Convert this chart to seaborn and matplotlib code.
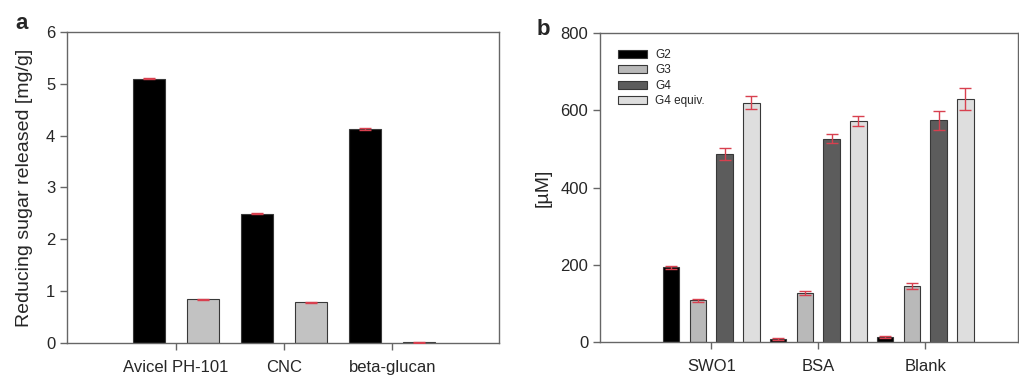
import numpy as np
import pandas as pd
import seaborn as sns
import matplotlib
matplotlib.use("Agg")
import matplotlib.pyplot as plt

# panel a data
subs_a = ["Avicel PH-101", "CNC", "beta-glucan"]
series_a = ["s1", "s2"]
vals_a1 = [5.10, 2.49, 4.12]
vals_a2 = [0.84, 0.79, 0.01]
err_a1 = [0.01, 0.01, 0.02]
err_a2 = [0.01, 0.01, 0.005]

# panel b data
groups_b = ["SWO1", "BSA", "Blank"]
series_b = ["G2", "G3", "G4", "G4 equiv."]
g2 = [193, 8, 13]
g3 = [108, 127, 145]
g4 = [487, 526, 574]
g4e = [620, 572, 629]
g2_err = [3, 2, 2]
g3_err = [4, 5, 7]
g4_err = [15, 12, 25]
g4e_err = [17, 14, 28]

sns.set_style("white")
plt.rcParams['font.family'] = ['Liberation Sans', 'DejaVu Sans']

red = "#d8404f"
spine_col = "#666666"

fig = plt.figure(figsize=(10.19, 3.75), dpi=100)
ax1 = fig.add_axes([0.0658, 0.0853, 0.424, 0.8294])
ax2 = fig.add_axes([0.5888, 0.088, 0.4105, 0.824])

# ---- panel a ----
df_a = pd.DataFrame({
    "sub": subs_a * 2,
    "series": [series_a[0]] * 3 + [series_a[1]] * 3,
    "val": vals_a1 + vals_a2,
})
sns.barplot(data=df_a, x="sub", y="val", hue="series", order=subs_a,
            hue_order=series_a, palette={"s1": "black", "s2": "#c2c2c2"},
            width=1.0, gap=0.4, errorbar=None, edgecolor="#383838",
            linewidth=0.8, legend=False, ax=ax1)
for cont, errs in zip(ax1.containers, [err_a1, err_a2]):
    xs = [p.get_x() + p.get_width() / 2 for p in cont.patches]
    hs = [p.get_height() for p in cont.patches]
    ax1.errorbar(xs, hs, yerr=errs, fmt="none", ecolor=red, elinewidth=1,
                 capsize=4, capthick=1, zorder=5)
ax1.set_xlim(-1.01, 2.99)
ax1.set_ylim(0, 6)
ax1.set_yticks(range(0, 7))
ax1.set_xlabel("")
ax1.set_ylabel("Reducing sugar released [mg/g]", fontsize=14, labelpad=9)
ax1.text(-0.105, 1.027, "a", transform=ax1.transAxes, fontsize=16,
         fontweight="bold", va="center", ha="center")

# ---- panel b ----
df_b = pd.DataFrame({
    "grp": groups_b * 4,
    "series": sum([[s] * 3 for s in series_b], []),
    "val": g2 + g3 + g4 + g4e,
})
pal_b = {"G2": "black", "G3": "#b9b9b9", "G4": "#5c5c5c", "G4 equiv.": "#dedede"}
sns.barplot(data=df_b, x="grp", y="val", hue="series", order=groups_b,
            hue_order=series_b, palette=pal_b, width=1.0, gap=0.38,
            errorbar=None, edgecolor="#383838", linewidth=0.8, ax=ax2)
for cont, errs in zip(ax2.containers, [g2_err, g3_err, g4_err, g4e_err]):
    xs = [p.get_x() + p.get_width() / 2 for p in cont.patches]
    hs = [p.get_height() for p in cont.patches]
    ax2.errorbar(xs, hs, yerr=errs, fmt="none", ecolor=red, elinewidth=1,
                 capsize=4, capthick=1, zorder=5)
ax2.set_xlim(-1.04, 2.87)
ax2.set_ylim(0, 800)
ax2.set_yticks(range(0, 801, 200))
ax2.set_xlabel("")
ax2.set_ylabel("[µM]", fontsize=14, labelpad=6)
ax2.legend(loc="upper left", bbox_to_anchor=(0.01, 0.995), frameon=False,
           fontsize=8.5, handlelength=2.4, handleheight=0.68,
           labelspacing=0.3, borderaxespad=0.9, handletextpad=0.7,
           borderpad=0.3)
ax2.text(-0.135, 1.01, "b", transform=ax2.transAxes, fontsize=16,
         fontweight="bold", va="center", ha="center")

for ax in (ax1, ax2):
    for s in ax.spines.values():
        s.set_color(spine_col)
        s.set_linewidth(1)
    ax.tick_params(axis="both", direction="out", length=5, width=1,
                   color=spine_col, labelsize=12, bottom=True, left=True)
    ax.tick_params(axis="x", pad=7)

fig.savefig("out.png", dpi=100)
